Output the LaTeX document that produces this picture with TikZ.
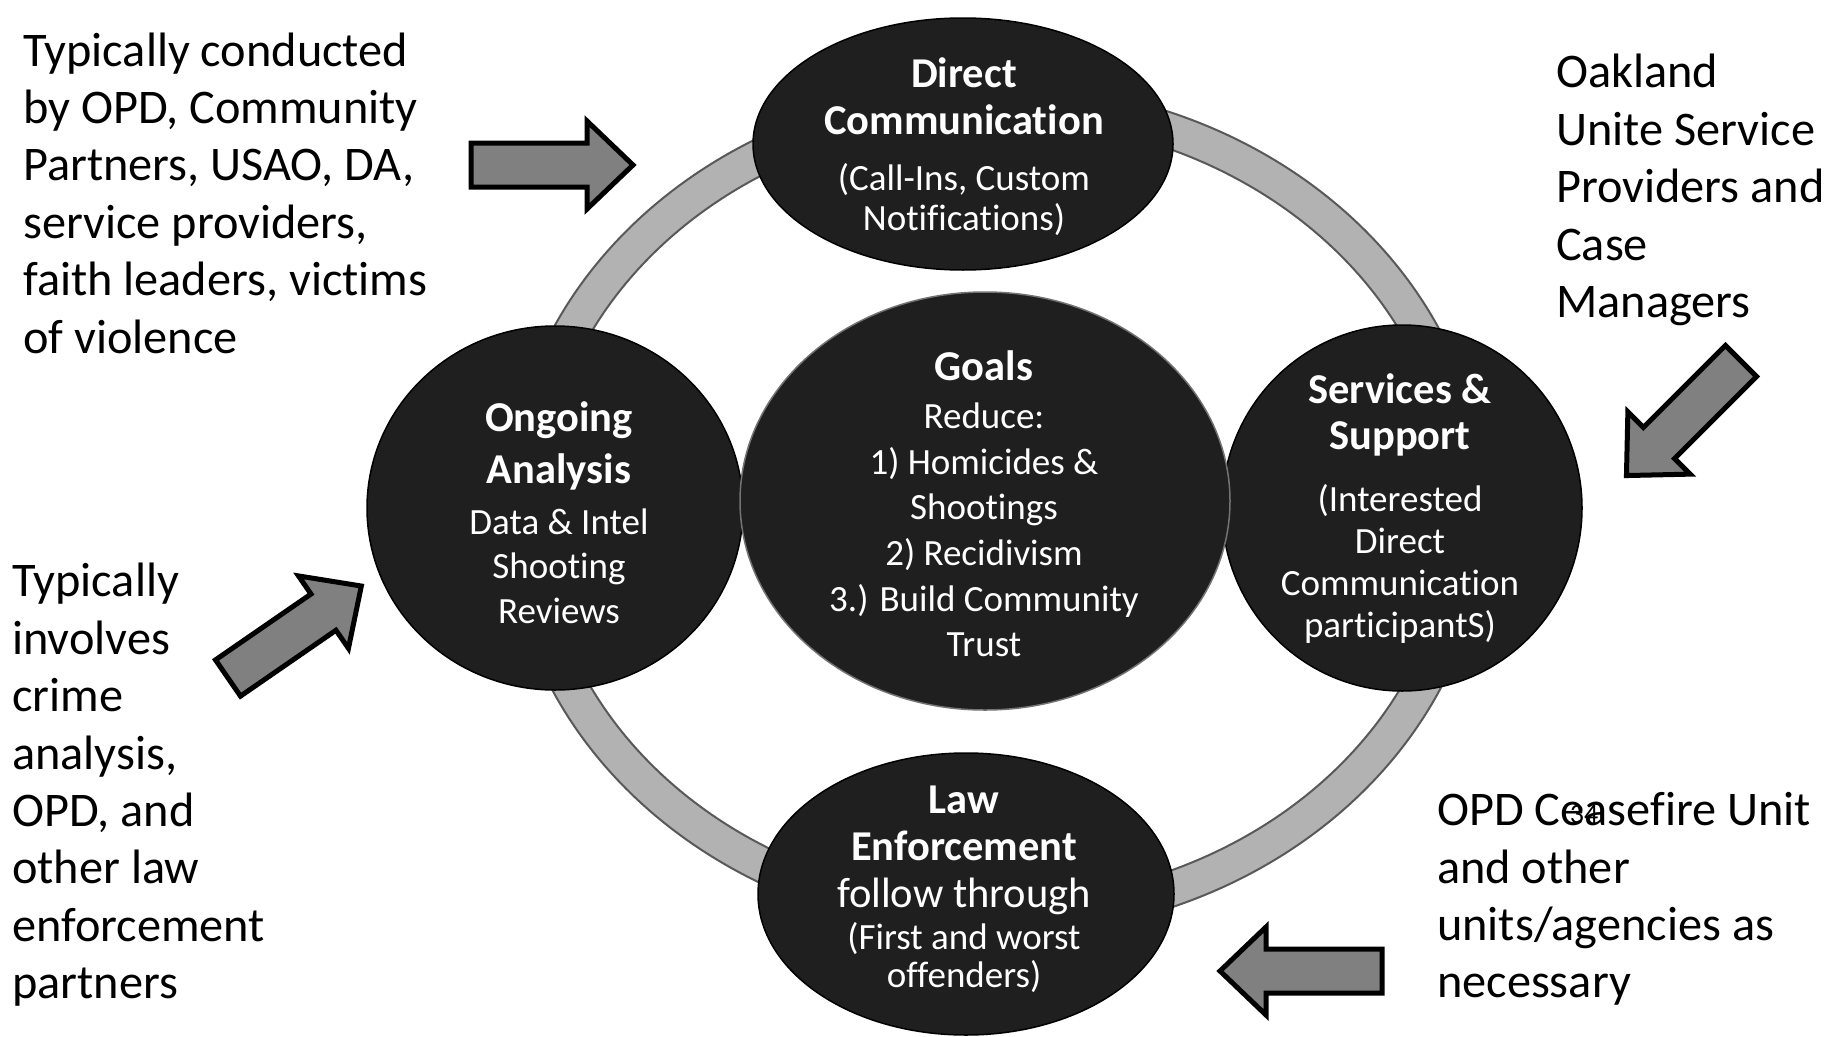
\documentclass[tikz,border=0pt]{standalone}
\usepackage{fontspec}
\setmainfont{Carlito}[Ligatures={NoCommon,NoRare}]
\usetikzlibrary{shapes.geometric}
\begin{document}
\begin{tikzpicture}[x=1pt,y=-1pt,
  blob/.style={ellipse, fill=black!88, draw=black, line width=1.5pt, inner sep=0},
  hdtext/.style={text=white, align=center, inner sep=0, font=\fontsize{42.5}{47}\selectfont\bfseries},
  bdtext/.style={text=white, align=center, inner sep=0, font=\fontsize{37}{40}\selectfont},
  side/.style={align=left, anchor=west, inner sep=0, font=\fontsize{48.3}{57.4}\selectfont},
  blockarrow/.style={fill=black!50, draw=black, line width=5pt, line join=miter}]
\useasboundingbox (0,0) rectangle (1844,1036);
\fill[white] (0,0) rectangle (1844,1036);

% ring
\draw[line width=35pt, black!30] (996,510) ellipse [x radius=472, y radius=408];
\draw[black!65, line width=2pt] (996,510) ellipse [x radius=489.5, y radius=425.5];
\draw[black!65, line width=2pt] (996,510) ellipse [x radius=454.5, y radius=390.5];

% ellipses
\node[blob, minimum width=376, minimum height=364] (oa) at (555,508) {};
\node[blob, minimum width=360, minimum height=366] (ss) at (1402,508) {};
\node[blob, minimum width=420, minimum height=252] (dc) at (963,144) {};
\node[blob, minimum width=416, minimum height=282] (le) at (966,894) {};
\node[blob, draw=black!55, minimum width=490, minimum height=418] (go) at (985,501) {};

% ellipse texts
\node[hdtext] (dch) at (964,96) {Direct\\Communication};
\node[bdtext] (dcb) at (964,200) {(Call-Ins, Custom\\Notifications)};

\node[hdtext] (goh) at (984,366) {Goals};
\node[bdtext, font=\fontsize{37}{45.6}\selectfont] (gob) at (984,530) {Reduce:\\1) Homicides \&\\Shootings\\2) Recidivism\\3.) Build Community\\Trust};

\node[hdtext, font=\fontsize{42.5}{52}\selectfont\bfseries] (oah) at (559,446) {Ongoing\\Analysis};
\node[bdtext, font=\fontsize{37}{44.5}\selectfont] (oab) at (559,566) {Data \& Intel\\Shooting\\Reviews};

\node[hdtext, font=\fontsize{42.5}{46}\selectfont\bfseries] (ssh) at (1400,415) {Services \&\\Support};
\node[bdtext, font=\fontsize{37}{42}\selectfont] (ssb) at (1400,564) {(Interested\\Direct\\Communication\\participantS)};

\node[hdtext] (leh) at (964,850) {Law\\Enforcement\\{\mdseries follow through}};
\node[bdtext, font=\fontsize{37}{38}\selectfont] (leb) at (964,958) {(First and worst\\offenders)};

% side texts
\node[side] (tl) at (23,193) {Typically conducted\\by OPD, Community\\Partners, USAO, DA,\\service providers,\\faith leaders, victims\\of violence};
\node[side] (tr) at (1556,190) {Oakland\\Unite Service\\Providers and\\Case\\Managers};
\node[side] (bl) at (12,785) {Typically\\involves\\crime\\analysis,\\OPD, and\\other law\\enforcement\\partners};
\node[side] (br) at (1437,899) {OPD Ceasefire Unit\\and other\\units/agencies as\\necessary};
\node[font=\fontsize{28}{28}\selectfont, inner sep=0] (pg) at (1584,814) {34};

% block arrows
\foreach \tx/\ty/\ang in {471/165/0, 1741/361/225, 228/678/34.6, 1382/971/180}{
  \draw[blockarrow, shift={(\tx,\ty)}, rotate=\ang]
    (0,-22) -- (116,-22) -- (116,-44) -- (162,0) -- (116,44) -- (116,22) -- (0,22) -- cycle;
}
\end{tikzpicture}
\end{document}
